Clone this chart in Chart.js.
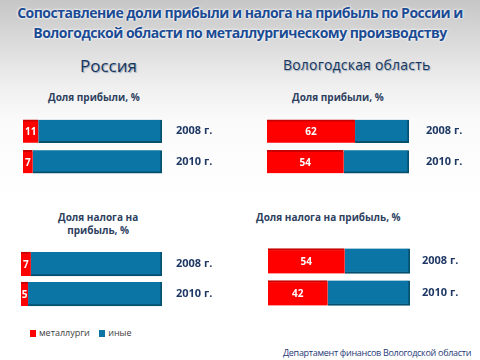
<!DOCTYPE html>
<html>
<head>
<meta charset="utf-8">
<script src="https://cdn.jsdelivr.net/npm/chart.js@4.4.0/dist/chart.umd.min.js"></script>
<style>
  body { margin:0; }
  #slide {
    position:relative; width:480px; height:360px; overflow:hidden;
    background: linear-gradient(to bottom, #c6c6c6 0px, #dcdcdc 45px, #efefef 85px, #fafafa 120px, #ffffff 200px);
    font-family: "Open Sans", "DejaVu Sans", sans-serif;
  }
  .t { position:absolute; white-space:nowrap; }
  #title {
    left:0; width:480px; top:3px; text-align:center; color:#1b4b93;
    font-weight:bold; font-size:14px; line-height:20px; letter-spacing:-0.5px;
    text-shadow: 0 0 2px #fff, 0 0 3px #fff;
  }
  .region { color:#17365d; text-shadow: 1px 1px 1px #9ab; }
  .sub { color:#2e3f5f; font-weight:bold; font-size:10px; line-height:13px; text-align:center; }
  canvas { position:absolute; }
  #legend { left:30px; top:326px; font-size:9px; color:#404040; }
  #legend span.b { display:inline-block; width:6px; height:7px; margin-right:3px; vertical-align:-1px; }
  #foot { left:283px; top:346px; color:#1f3a78; font-size:9px; letter-spacing:-0.3px; }
</style>
</head>
<body>
<div id="slide">
  <div class="t" id="title">Сопоставление доли прибыли и налога на прибыль по России и<br>Вологодской области по металлургическому производству</div>
  <div class="t region" style="left:80px; top:54px; font-size:17px;">Россия</div>
  <div class="t region" style="left:283px; top:55px; font-size:14px; letter-spacing:0.2px;">Вологодская область</div>
  <div class="t sub" style="left:48px; top:91px;">Доля прибыли, %</div>
  <div class="t sub" style="left:292px; top:91px;">Доля прибыли, %</div>
  <div class="t sub" style="left:58px; top:211px;">Доля налога на<br>прибыль, %</div>
  <div class="t sub" style="left:256px; top:211px;">Доля налога на прибыль, %</div>

  <canvas id="c1" width="199" height="61" style="left:23px; top:116px;"></canvas>
  <canvas id="c2" width="202" height="61" style="left:267px; top:116px;"></canvas>
  <canvas id="c3" width="201" height="60" style="left:21px; top:249px;"></canvas>
  <canvas id="c4" width="202" height="64" style="left:268px; top:245px;"></canvas>

  <div class="t" id="legend"><span class="b" style="background:#ff0000"></span>металлурги&nbsp;&nbsp;&nbsp;&nbsp;<span class="b" style="background:#0b76a6"></span>иные</div>
  <div class="t" id="foot">Департамент финансов Вологодской области</div>
</div>
<script>
var years = ["2008 г.", "2010 г."];
var seriesNames = ["металлурги", "иные"];

// Россия
var rusProfitMet = [11, 7];
var rusProfitOther = [89, 93];
var rusTaxMet = [7, 5];
var rusTaxOther = [93, 95];

// Вологодская область
var volProfitMet = [62, 54];
var volProfitOther = [38, 46];
var volTaxMet = [54, 42];
var volTaxOther = [46, 58];

var redColor = "#ff0000";
var blueColor = "#0b76a6";

// white value labels on red segments
var valueLabels = {
  id: "valueLabels",
  afterDatasetsDraw: function(chart) {
    var ctx = chart.ctx;
    var meta = chart.getDatasetMeta(0);
    ctx.save();
    ctx.fillStyle = "#ffffff";
    ctx.font = "bold 10px 'Open Sans', sans-serif";
    ctx.textAlign = "center";
    ctx.textBaseline = "middle";
    meta.data.forEach(function(bar, i) {
      var x = (bar.base + bar.x) / 2;
      ctx.fillText(chart.data.datasets[0].data[i], x, bar.y + 1);
    });
    ctx.restore();
  }
};

function show_bars(canvas_id, met, other, thickness, pad) {
  var ctx = document.getElementById(canvas_id).getContext("2d");
  return new Chart(ctx, {
    type: "bar",
    data: {
      labels: years,
      datasets: [{
        label: seriesNames[0],
        data: met,
        backgroundColor: redColor,
        borderColor: "#c80000",
        borderWidth: {top: 2, right: 0, bottom: 0, left: 0},
        borderSkipped: false,
        barThickness: thickness
      }, {
        label: seriesNames[1],
        data: other,
        backgroundColor: blueColor,
        borderColor: "#06506f",
        borderWidth: {top: 0, right: 2, bottom: 2, left: 0},
        borderSkipped: false,
        barThickness: thickness
      }]
    },
    options: {
      indexAxis: "y",
      responsive: false,
      animation: false,
      layout: {padding: 0},
      plugins: {legend: {display: false}, tooltip: {enabled: false}},
      scales: {
        x: {stacked: true, min: 0, max: 100, display: false},
        y: {
          stacked: true,
          position: "right",
          grid: {display: false, drawTicks: false},
          border: {display: false},
          ticks: {
            padding: pad,
            color: "#1f3864",
            font: {family: "'Open Sans', sans-serif", size: 11, weight: "bold"}
          },
          afterFit: function(scale) {
            scale.width = 60;
            scale.paddingTop = 0;
            scale.paddingBottom = 0;
          }
        }
      }
    },
    plugins: [valueLabels]
  });
}

show_bars("c1", rusProfitMet, rusProfitOther, 23, 14);
show_bars("c2", volProfitMet, volProfitOther, 23, 17);
show_bars("c3", rusTaxMet, rusTaxOther, 24, 14);
show_bars("c4", volTaxMet, volTaxOther, 25, 12);
</script>
</body>
</html>
